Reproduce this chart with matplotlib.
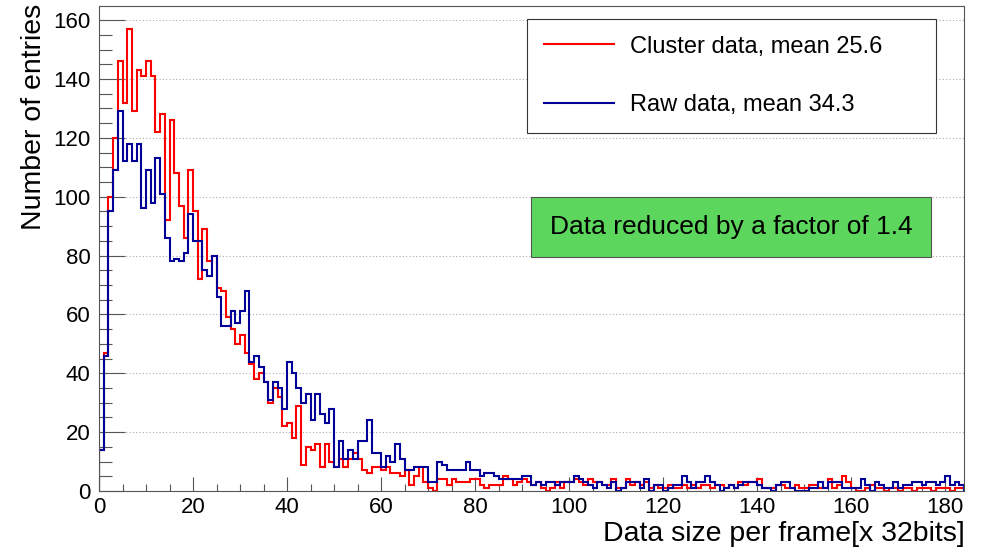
import numpy as np
import matplotlib
matplotlib.use('Agg')
import matplotlib.pyplot as plt
from matplotlib.patches import Rectangle
from matplotlib.lines import Line2D
from matplotlib.ticker import MultipleLocator

# histogram contents, 1-unit bins from 0 to 184
cluster = [
    14, 47, 100, 120, 146, 132, 157, 129, 143, 141,
    146, 141, 122, 128, 92, 126, 108, 97, 86, 109,
    95, 72, 89, 78, 80, 69, 68, 59, 55, 50,
    53, 47, 43, 38, 40, 37, 30, 35, 32, 22,
    23, 18, 29, 9, 15, 14, 16, 8, 16, 10,
    8, 11, 8, 11, 13, 11, 7, 6, 8, 8,
    7, 8, 6, 6, 5, 7, 2, 5, 8, 3,
    1, 0, 4, 4, 2, 4, 3, 3, 3, 4,
    4, 2, 1, 2, 2, 2, 5, 4, 2, 3,
    4, 3, 2, 3, 1, 0, 1, 3, 1, 3,
    3, 4, 3, 2, 4, 3, 3, 2, 2, 4,
    1, 1, 4, 2, 3, 2, 3, 1, 2, 1,
    1, 2, 1, 1, 2, 1, 2, 1, 2, 2,
    1, 2, 2, 1, 2, 1, 3, 2, 3, 3,
    4, 1, 1, 1, 2, 2, 1, 1, 2, 1,
    1, 2, 2, 1, 1, 4, 1, 2, 5, 3,
    1, 0, 0, 1, 2, 1, 1, 0, 1, 1,
    0, 1, 1, 0, 1, 1, 1, 0, 1, 1,
    1, 0, 1, 1,
]
raw = [
    14, 46, 95, 109, 129, 112, 118, 112, 118, 96,
    109, 98, 113, 101, 86, 78, 79, 78, 81, 94,
    85, 85, 75, 73, 80, 66, 56, 56, 61, 57,
    61, 68, 44, 46, 42, 37, 31, 37, 35, 28,
    44, 40, 35, 30, 33, 24, 33, 26, 23, 28,
    8, 17, 11, 14, 11, 17, 17, 24, 13, 13,
    8, 12, 10, 16, 11, 7, 7, 8, 8, 8,
    3, 3, 10, 9, 7, 7, 7, 7, 10, 7,
    7, 5, 6, 6, 5, 4, 4, 4, 4, 4,
    5, 5, 2, 3, 2, 3, 3, 2, 3, 3,
    3, 5, 4, 3, 2, 1, 3, 2, 1, 3,
    0, 1, 3, 3, 3, 1, 4, 0, 2, 2,
    0, 1, 2, 2, 5, 3, 1, 3, 3, 5,
    3, 2, 0, 1, 2, 1, 2, 3, 3, 3,
    2, 1, 1, 0, 2, 3, 3, 1, 0, 0,
    0, 1, 1, 3, 1, 3, 3, 3, 1, 1,
    1, 1, 4, 2, 0, 3, 2, 1, 1, 3,
    1, 2, 2, 3, 3, 2, 3, 3, 2, 3,
    5, 2, 3, 2,
]
labels = ['Cluster data, mean 25.6', 'Raw data, mean 34.3']
note = 'Data reduced by a factor of 1.4'

edges = np.arange(len(cluster) + 1)

plt.rcParams['font.family'] = ['Liberation Sans', 'DejaVu Sans']

W, H = 987, 551
fig = plt.figure(figsize=(W / 100, H / 100), dpi=100)
ax = fig.add_axes([99 / W, 60 / H, 865 / W, 485 / H])

ax.stairs(cluster, edges, baseline=0, color='red', lw=1.5)
ax.stairs(raw, edges, baseline=0, color='#000099', lw=1.5)

ax.set_xlim(0, 184)
ax.set_ylim(0, 164.8)
ax.xaxis.set_major_locator(MultipleLocator(20))
ax.xaxis.set_minor_locator(MultipleLocator(5))
ax.yaxis.set_major_locator(MultipleLocator(20))
ax.yaxis.set_minor_locator(MultipleLocator(5))
ax.yaxis.grid(True, which='major', linestyle=(0, (1, 2)), color='#aaaaaa', lw=0.8)
ax.set_axisbelow(True)

ax.tick_params(which='both', direction='in', color='#555555', width=0.8, labelsize=16)
ax.tick_params(axis='x', which='major', length=10, pad=4)
ax.tick_params(axis='x', which='minor', length=5)
ax.tick_params(axis='y', which='major', length=18.7, pad=6)
ax.tick_params(axis='y', which='minor', length=9.4)
for s in ax.spines.values():
    s.set_color('#555555')
    s.set_linewidth(0.8)

fig.text(965 / W, 1 - 541 / H, 'Data size per frame[x 32bits]', ha='right', va='baseline', fontsize=20.5)
fig.text(34 / W, 1 - 4 / H, 'Number of entries', rotation=90, ha='center', va='top', fontsize=20.5)

handles = [Line2D([], [], color='red', lw=1.5), Line2D([], [], color='#000099', lw=1.5)]
leg = ax.legend(handles, labels, loc='center', mode='expand',
                bbox_to_anchor=(527 / W, 1 - 140 / H, 409 / W, 128 / H), bbox_transform=fig.transFigure,
                fontsize=17, fancybox=False, framealpha=1, borderpad=0.7, labelspacing=1.55,
                handlelength=3.0, handletextpad=0.65, borderaxespad=0)
leg.get_frame().set_edgecolor('#333333')
leg.get_frame().set_linewidth(0.8)

fig.add_artist(Rectangle((531 / W, 1 - 257 / H), 400 / W, 60 / H, transform=fig.transFigure,
                         facecolor='#5cd65c', edgecolor='#555555', lw=0.8))
fig.text(731 / W, 1 - 227 / H, note, ha='center', va='center', fontsize=19)

fig.savefig('out.png', dpi=100)
